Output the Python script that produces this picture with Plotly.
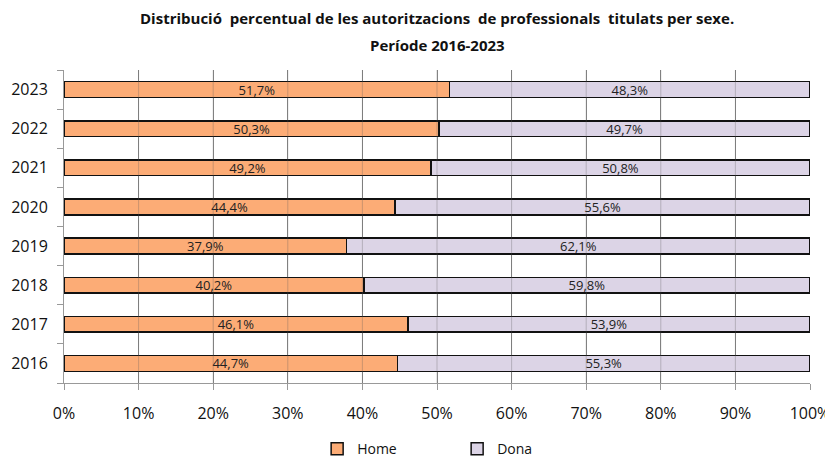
import plotly.graph_objects as go

years = ["2016", "2017", "2018", "2019", "2020", "2021", "2022", "2023"]
home = [44.7, 46.1, 40.2, 37.9, 44.4, 49.2, 50.3, 51.7]
dona = [55.3, 53.9, 59.8, 62.1, 55.6, 50.8, 49.7, 48.3]
x_ticks = [0, 10, 20, 30, 40, 50, 60, 70, 80, 90, 100]
title_lines = [
    "Distribució  percentual de les autoritzacions  de professionals  titulats per sexe.",
    "Període 2016-2023",
]

def fmt(v):
    return f"{v:.1f}%".replace(".", ",")

font_family = "Open Sans, Noto Sans, sans-serif"

fig = go.Figure()
fig.add_trace(go.Bar(
    y=years, x=home, name="Home", orientation="h",
    marker=dict(color="#FCAC76", line=dict(color="#111111", width=1.5)),
    text=[fmt(v) for v in home], textposition="inside", insidetextanchor="middle",
    textfont=dict(size=13, color="#222222", family=font_family),
    width=0.4,
))
fig.add_trace(go.Bar(
    y=years, x=dona, name="Dona", orientation="h",
    marker=dict(color="#DCD4E6", line=dict(color="#111111", width=1.5)),
    text=[fmt(v) for v in dona], textposition="inside", insidetextanchor="middle",
    textfont=dict(size=13, color="#222222", family=font_family),
    width=0.4,
))

# faint gridlines visible through the bars
for v in x_ticks[1:-1]:
    fig.add_shape(type="line", xref="x", yref="paper", x0=v, x1=v, y0=0, y1=1,
                  line=dict(color="rgba(90,90,90,0.3)", width=1), layer="above")

fig.add_annotation(text="<b>" + title_lines[0] + "</b>", xref="paper", yref="paper",
                   x=0.5, y=1.166, xanchor="center", yanchor="middle", showarrow=False,
                   font=dict(size=15, family=font_family, color="#111111"))
fig.add_annotation(text="<b>" + title_lines[1] + "</b>", xref="paper", yref="paper",
                   x=0.5, y=1.080, xanchor="center", yanchor="middle", showarrow=False,
                   font=dict(size=15, family=font_family, color="#111111"))

fig.update_layout(
    barmode="stack",
    width=825, height=449,
    margin=dict(l=56, r=23, t=62, b=74, autoexpand=False),
    paper_bgcolor="white", plot_bgcolor="white",
    font=dict(family=font_family, color="#111111"),
    showlegend=True,
    legend=dict(
        orientation="h", x=0.527, xanchor="center", y=-0.211, yanchor="middle",
        font=dict(size=14, family=font_family), traceorder="normal",
        itemwidth=30, entrywidth=95,
    ),
    uniformtext=dict(mode="show", minsize=13),
)
fig.update_xaxes(
    range=[0, 100], tickvals=x_ticks, ticktext=[f"{v}%" for v in x_ticks],
    showgrid=True, gridcolor="#8c8c8c", gridwidth=1,
    showline=True, linecolor="#999999", linewidth=1,
    ticks="outside", ticklen=6, tickcolor="#999999",
    tickfont=dict(size=16, family=font_family), ticklabelstandoff=10,
    ticklabeloverflow="allow",
    zeroline=False, fixedrange=True, automargin=False,
)
fig.update_yaxes(
    categoryorder="array", categoryarray=years,
    showline=True, linecolor="#999999", linewidth=1,
    ticks="outside", ticklen=6, tickcolor="#999999", tickson="boundaries",
    tickfont=dict(size=16, family=font_family), showgrid=False,
    ticklabelstandoff=12, automargin=False,
)

fig.write_html("out.html")
